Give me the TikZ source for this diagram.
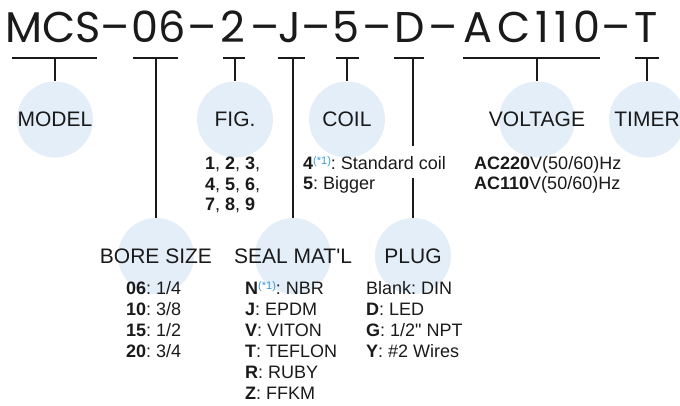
\documentclass[tikz,border=0pt]{standalone}
\usepackage{fontspec}
\setmainfont{Liberation Sans}
\newfontfamily\titlefont{Poppins}
\newfontfamily\rawfont[Ligatures=ResetAll]{Liberation Sans}
\frenchspacing
\definecolor{bub}{HTML}{E4EEF8}
\definecolor{supblue}{HTML}{3A9AD9}
\definecolor{ink}{HTML}{1A1A1A}
\newcommand{\sref}{\raisebox{5.5pt}{\fontsize{11}{11}\selectfont\color{supblue}(*1)}}
\newcommand{\optlist}[1]{\begin{tabular}[t]{@{}l@{}}#1\end{tabular}}
\begin{document}
\begin{tikzpicture}[x=1pt,y=-1pt,
 seg/.style={font=\titlefont\fontsize{43}{43}\selectfont, inner sep=0, anchor=base, text=ink},
 bar/.style={line width=1.2pt, draw=ink},
 bubble/.style={circle, fill=bub, minimum size=76pt, inner sep=0},
 lab/.style={font=\fontsize{21}{21}\selectfont, inner sep=0, text=ink},
 lst/.style={font=\fontsize{18}{21}\selectfont, inner sep=0, anchor=base west, text=ink}]
\useasboundingbox (0,0) rectangle (680,405);
\begin{scope}
\clip (0,0) rectangle (680,405);
% title segments
\foreach \t/\x [count=\i] in {MCS/53.5,–/115.5,06/159,–/202.5,2/232.5,–/265,J/289.5,–/316.5,5/346,–/377.5,D/409.5,–/443.5,{\addfontfeature{LetterSpace=12}AC110}/532,–/616.5,T/646}
  \node[seg] (t\i) at (\x,42) {\t};
% bubbles
\node[bubble] (model) at (55,119.5) {};
\node[bubble] (fig) at (235,119.5) {};
\node[bubble] (coil) at (347,119.5) {};
\node[bubble] (volt) at (537,119.5) {};
\node[bubble] (timer) at (647,119.5) {};
\node[bubble] (bore) at (156,256) {};
\node[bubble] (seal) at (293,256) {};
\node[bubble] (plug) at (413,256) {};
\node[lab] (lmodel) at (model) {MODEL};
\node[lab] (lfig) at (fig) {FIG.};
\node[lab] (lcoil) at (coil) {COIL};
\node[lab] (lvolt) at (volt) {VOLTAGE};
\node[lab] (ltimer) at (timer) {TIMER};
\node[lab] (lbore) at (bore) {BORE SIZE};
\node[lab] (lseal) at (seal) {SEAL MAT{\rawfont '}L};
\node[lab] (lplug) at (plug) {PLUG};
% bars and stems
\foreach \n/\a/\b/\tgt in {1/12/97/model,2/133/178/bore,3/223/245/fig,4/278/305/seal,5/336/359/coil,7/463/600/volt,8/635/659/timer}{
  \coordinate (bl\n) at (\a,58);
  \coordinate (br\n) at (\b,58);
  \draw[bar] (bl\n) -- (br\n);
  \draw[bar] (\tgt.north |- bl\n) -- (\tgt.north);
}
\coordinate (bl6) at (394,58);
\coordinate (br6) at (424,58);
\coordinate (dg1) at (413,146);
\coordinate (dg2) at (413,178);
\draw[bar] (bl6) -- (br6);
\draw[bar] (plug.north |- bl6) -- (plug.north |- dg1);
\draw[bar] (plug.north |- dg2) -- (plug.north);
% option lists
\node[lst, font=\fontsize{18}{20.5}\selectfont] (tfig) at (205,169.5)
  {\optlist{\textbf{1}, \textbf{2}, \textbf{3},\\ \textbf{4}, \textbf{5}, \textbf{6},\\ \textbf{7}, \textbf{8}, \textbf{9}}};
\node[lst, font=\fontsize{18}{20}\selectfont] (tcoil) at (303,169.5)
  {\optlist{\textbf{4}\sref: Standard coil\\ \textbf{5}: Bigger}};
\node[lst, font=\fontsize{18}{20}\selectfont] (tvolt) at (474,169.5)
  {\optlist{\textbf{AC220}V(50/60)Hz\\ \textbf{AC110}V(50/60)Hz}};
\node[lst] (tbore) at (126,294.5)
  {\optlist{\textbf{06}: 1/4\\ \textbf{10}: 3/8\\ \textbf{15}: 1/2\\ \textbf{20}: 3/4}};
\node[lst] (tseal) at (245,294.5)
  {\optlist{\textbf{N}\sref: NBR\\ \textbf{J}: EPDM\\ \textbf{V}: VITON\\ \textbf{T}: TEFLON\\ \textbf{R}: RUBY\\ \textbf{Z}: FFKM}};
\node[lst] (tplug) at (366,294.5)
  {\optlist{Blank: DIN\\ \textbf{D}: LED\\ \textbf{G}: 1/2{\rawfont "} NPT\\ \textbf{Y}: \#2 Wires}};
\end{scope}
\end{tikzpicture}
\end{document}
